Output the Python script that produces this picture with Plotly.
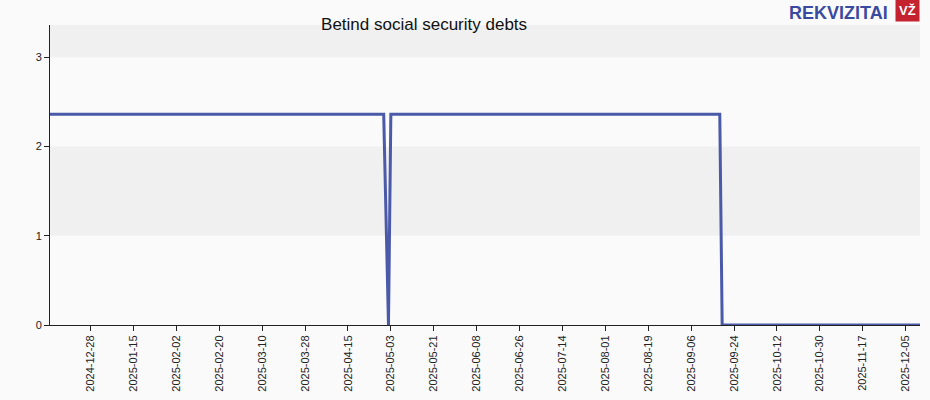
import plotly.graph_objects as go

# data
dates = ["2024-12-11", "2025-04-30", "2025-05-02", "2025-05-03",
         "2025-09-18", "2025-09-19", "2025-12-11"]
values = [2.36, 2.36, 0, 2.36, 2.36, 0, 0]
tick_dates = ["2024-12-28", "2025-01-15", "2025-02-02", "2025-02-20", "2025-03-10",
              "2025-03-28", "2025-04-15", "2025-05-03", "2025-05-21", "2025-06-08",
              "2025-06-26", "2025-07-14", "2025-08-01", "2025-08-19", "2025-09-06",
              "2025-09-24", "2025-10-12", "2025-10-30", "2025-11-17", "2025-12-05"]
y_ticks = [0, 1, 2, 3]

fig = go.Figure()

fig.add_trace(go.Scatter(
    x=dates,
    y=values,
    mode='lines',
    line=dict(color='#4a5aa8', width=3),
    hovertemplate='%{y:.2f} on %{x}<extra></extra>'
))

# alternating horizontal bands
bands = [(1, 2), (3, 3.36)]
shapes = []
for y0, y1 in bands:
    shapes.append(dict(type='rect', xref='paper', yref='y', x0=0, x1=1, y0=y0, y1=y1,
                       fillcolor='#f0f0f0', line=dict(width=0), layer='below'))

fig.update_layout(
    width=930, height=400,
    margin=dict(l=50, r=10, t=25, b=75),
    paper_bgcolor='#fafafa',
    plot_bgcolor='#fafafa',
    font=dict(family='Liberation Sans, Arial', size=11, color='#222'),
    showlegend=False,
    shapes=shapes,
    title=dict(text='Betind social security debts', x=0.456, xanchor='center',
               y=0.94, yanchor='middle', pad=dict(t=0, b=0, l=0, r=0),
               font=dict(size=17, color='#111')),
    xaxis=dict(
        type='date',
        range=['2024-12-11', '2025-12-11'],
        tickvals=tick_dates,
        ticktext=tick_dates,
        tickangle=-90,
        ticks='outside', ticklen=5, tickcolor='#222',
        showline=True, linecolor='#222', linewidth=1,
        showgrid=False, zeroline=False, automargin=False,
        tickfont=dict(size=11, color='#222')
    ),
    yaxis=dict(
        range=[0, 3.36],
        tickvals=y_ticks,
        ticks='outside', ticklen=5, tickcolor='#222',
        showline=True, linecolor='#222', linewidth=1,
        showgrid=False, zeroline=False, automargin=False,
        tickfont=dict(size=11, color='#222')
    ),
    annotations=[
        dict(text='<b>REKVIZITAI</b>', xref='paper', yref='paper', x=0.9655, y=1.0,
             xanchor='right', yanchor='bottom', yshift=0, showarrow=False,
             font=dict(family='Liberation Sans, Arial', size=18, color='#3a4aa0')),
        dict(text='<b>VŽ</b>', xref='paper', yref='paper', x=1.0, y=1.0,
             xanchor='right', yanchor='bottom', yshift=3, showarrow=False,
             bgcolor='#c4222e', borderpad=3,
             font=dict(family='Liberation Sans, Arial', size=13, color='white'))
    ]
)

# drop the default page margin so the figure sits at the window's corner
fig.write_html("out.html", config={'displayModeBar': False},
               post_script="document.body.style.margin='0';")
